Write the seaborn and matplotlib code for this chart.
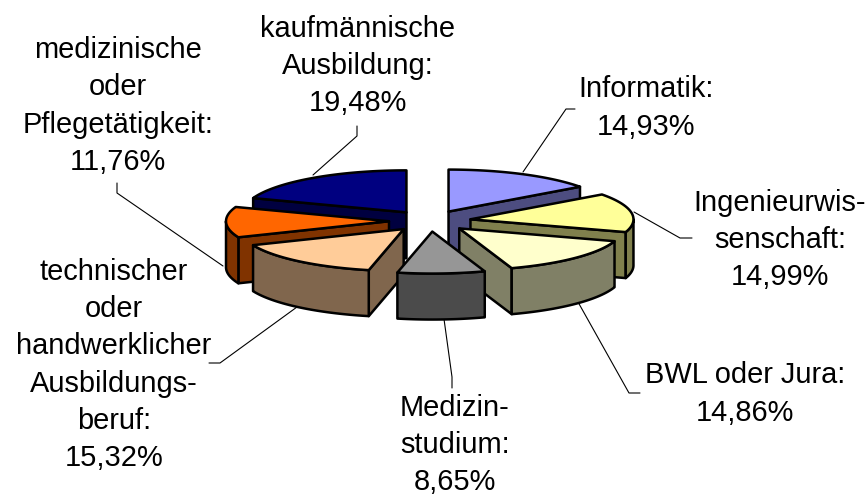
import numpy as np
import matplotlib.pyplot as plt
import seaborn as sns

# Anteile im Uhrzeigersinn ab 12 Uhr
kategorien = ['Informatik', 'Ingenieurwis-\nsenschaft', 'BWL oder Jura', 'Medizin-\nstudium',
              'technischer\noder\nhandwerklicher\nAusbildungs-\nberuf',
              'medizinische\noder\nPflegetätigkeit', 'kaufmännische\nAusbildung']
anteile = [14.93, 14.99, 14.86, 8.65, 15.32, 11.76, 19.48]
farben = ['#9999FF', '#FFFF99', '#FFFFCC', '#969696', '#FFCC99', '#FF6600', '#000080']

# Position der Beschriftungen (Mitte) und Führungslinien in Pixeln
label_pos = [(646, 108), (780, 240), (745, 394), (455, 445), (114, 365), (118, 106), (358, 66)]
leader = [[(575, 109), (566, 109), (523, 172)], [(692, 238), (680, 238), (634, 212)],
          [(640, 393), (629, 393), (578, 302)], [(452, 388), (452, 377), (444, 319)],
          [(209, 363), (220, 363), (297, 307)], [(117, 183), (117, 193), (223, 266)],
          [(357, 126), (357, 136), (313, 175)]]

CX, CY = 430, 221      # Mitte des Kuchens
RX, RY = 163, 42       # Ellipse der Oberseite
TIEFE = 46
EXPLODE = 41

sns.set_theme(style='white')
plt.rcParams['font.family'] = ['Liberation Sans', 'DejaVu Sans']

fig, ax = plt.subplots(figsize=(8.66, 4.98), dpi=100)
ax.set_position([0, 0, 1, 1])
ax.set_xlim(0, 866)
ax.set_ylim(498, 0)
ax.axis('off')

palette = sns.color_palette(farben)
winkel = np.radians(np.cumsum([0] + anteile) / sum(anteile) * 360)


def punkt(ax0, ay0, t):
    return np.column_stack([ax0 + RX * np.sin(t), ay0 - RY * np.cos(t)])


def flaeche(pts, farbe, z):
    ax.fill(pts[:, 0], pts[:, 1], facecolor=farbe, edgecolor='black', linewidth=1.8,
            joinstyle='round', zorder=z)


def wand(a, farbe, z):
    # Linie a nach unten extrudieren
    pts = np.vstack([a, a[::-1] + [0, TIEFE]])
    flaeche(pts, farbe, z)


# hintere Stücke zuerst zeichnen
mitten = (winkel[:-1] + winkel[1:]) / 2
for z, i in enumerate(np.argsort(-np.cos(mitten))):
    t1, t2 = winkel[i], winkel[i + 1]
    ax0 = CX + EXPLODE * np.sin(mitten[i])
    ay0 = CY - EXPLODE * RY / RX * np.cos(mitten[i])
    top = np.array(palette[i])
    dunkel = top * 0.5
    apex = np.array([[ax0, ay0]])
    zz = z * 10 + 1

    if np.sin(t1) < -1e-6:
        wand(np.vstack([apex, punkt(ax0, ay0, np.array([t1]))]), dunkel, zz)
    if np.sin(t2) > 1e-6:
        wand(np.vstack([apex, punkt(ax0, ay0, np.array([t2]))]), dunkel, zz)
    # Außenwand nur, wo sie zum Betrachter zeigt
    a, b = max(t1, np.pi / 2), min(t2, 3 * np.pi / 2)
    if b > a:
        wand(punkt(ax0, ay0, np.linspace(a, b, 60)), dunkel, zz + 1)
    rand = punkt(ax0, ay0, np.linspace(t1, t2, 80))
    flaeche(np.vstack([apex, rand]), top, zz + 2)

for name, wert, pos, lin in zip(kategorien, anteile, label_pos, leader):
    text = f'{name}:\n{wert:.2f}%'.replace('.', ',')
    ax.text(pos[0], pos[1], text, ha='center', va='center', fontsize=20.9,
            color='black', linespacing=1.41, zorder=100)
    ax.plot([p[0] for p in lin], [p[1] for p in lin], color='black', linewidth=0.8, zorder=0)

fig.savefig('out.png', dpi=100)
